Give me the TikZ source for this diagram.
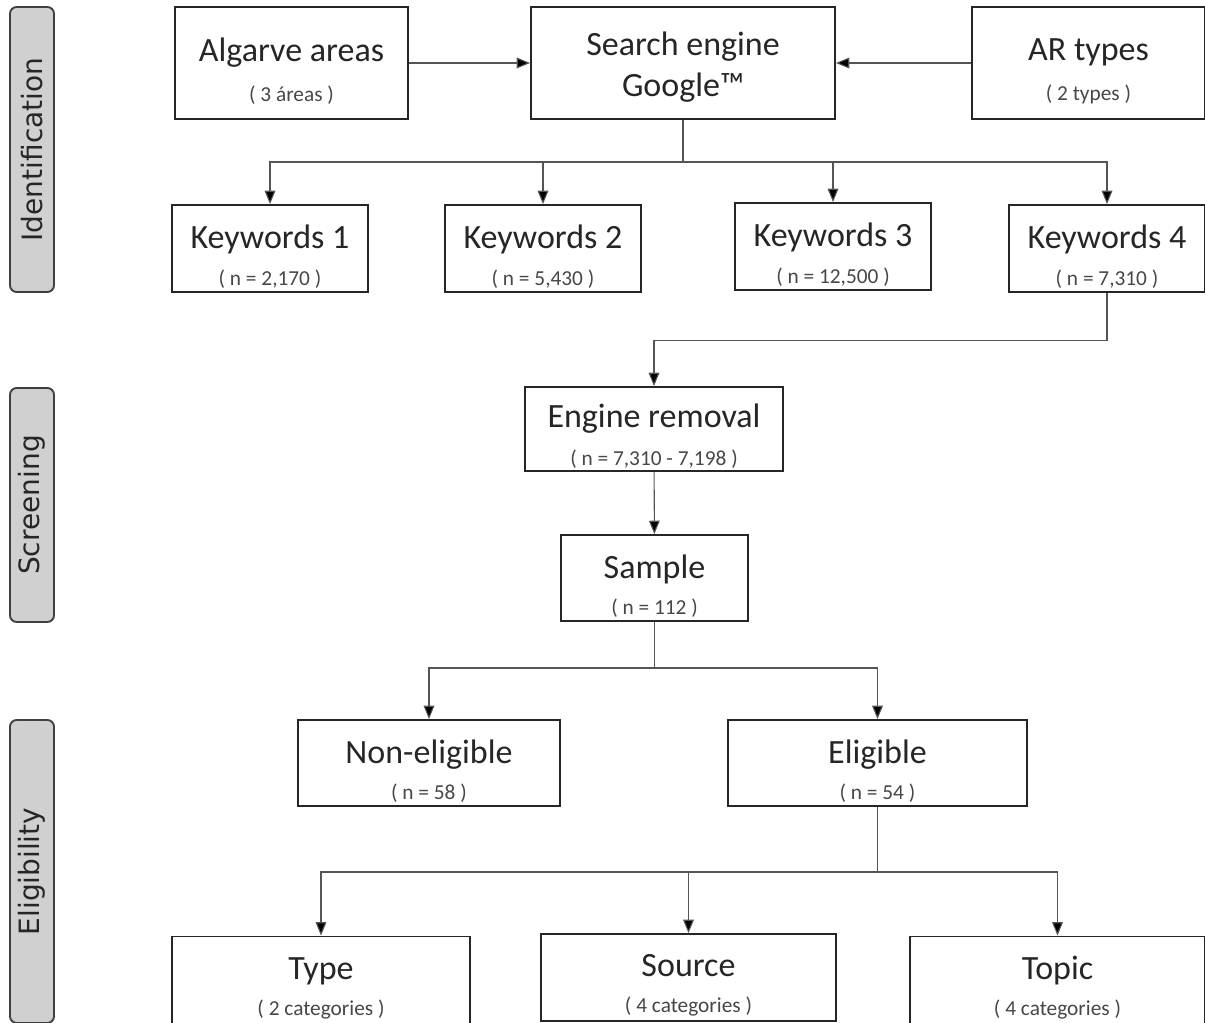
\documentclass[tikz,border=0pt]{standalone}
\usepackage{fontspec}
\setmainfont{Carlito}
\newfontfamily\lblfont{DejaVu Sans}
\usetikzlibrary{arrows.meta}
\definecolor{lblgray}{HTML}{D0D0D0}
\definecolor{linegray}{HTML}{555555}
\newcommand\subtxt[1]{{\fontsize{16}{18}\selectfont\color{black!72}#1}}
\newcommand\maintxt{\fontsize{25.5}{29}\selectfont}
\tikzset{
  wh/.style 2 args={minimum width=#1*0.75pt, minimum height=#2*0.75pt},
  box/.style={draw=black!85, line width=1.4pt, fill=white, inner sep=0pt},
  boxtext/.style={align=center, inner sep=0pt, text=black!85, font=\maintxt},
  phase/.style={draw=black!75, line width=1.4pt, fill=lblgray, rounded corners=5pt, inner sep=0pt, rotate=90, font=\lblfont\fontsize{21}{24}\selectfont, text=black!85},
  conn/.style={draw=linegray, line width=0.8pt},
  arr/.style={conn, -{Triangle[length=10pt,width=8pt,fill=black]}}
}
% name, x, y, w, h, text offset, content
\newcommand\flowbox[7]{%
  \node[box, wh={#4}{#5}] (#1) at (#2,#3) {};
  \node[boxtext] (#1-t) at (#2,#3+#6) {#7};}
\begin{document}
\begin{tikzpicture}[x=0.75pt,y=-0.75pt]
\useasboundingbox (0,0) rectangle (1205,1023);
% phase labels
\node[phase, wh={285}{44}] (pid) at (32,149.5) {Identification};
\node[phase, wh={234}{44}] (psc) at (32,505) {Screening};
\node[phase, wh={303}{44}] (pel) at (32,871.5) {Eligibility};
% top row
\flowbox{alg}{291.5}{63}{233}{112}{8.5}{Algarve areas\\[1pt]\subtxt{( 3 áreas )}}
\flowbox{se}{683}{63}{304}{112}{4}{Search engine\\[2pt]Google™}
\flowbox{ar}{1088.5}{63}{233}{112}{8.5}{AR types\\[1pt]\subtxt{( 2 types )}}
% keywords
\flowbox{kw1}{270}{248.5}{196}{87}{8}{Keywords 1\\[-1.5pt]\subtxt{( n = 2,170 )}}
\flowbox{kw2}{543}{248.5}{196}{87}{8}{Keywords 2\\[-1.5pt]\subtxt{( n = 5,430 )}}
\flowbox{kw3}{833}{246.5}{196}{87}{8}{Keywords 3\\[-1.5pt]\subtxt{( n = 12,500 )}}
\flowbox{kw4}{1107}{248.5}{196}{87}{8}{Keywords 4\\[-1.5pt]\subtxt{( n = 7,310 )}}
% screening
\flowbox{er}{654}{429}{258}{84}{7}{Engine removal\\[-0.5pt]\subtxt{( n = 7,310 - 7,198 )}}
\flowbox{sm}{654.5}{578}{187}{86}{8}{Sample\\[-2pt]\subtxt{( n = 112 )}}
% eligibility
\flowbox{ne}{429}{763}{262}{86}{8}{Non-eligible\\[-2pt]\subtxt{( n = 58 )}}
\flowbox{el}{877.5}{763}{299}{86}{8}{Eligible\\[-2pt]\subtxt{( n = 54 )}}
\flowbox{ty}{321}{980}{298}{87}{8}{Type\\[-2pt]\subtxt{( 2 categories )}}
\flowbox{so}{688.5}{977.5}{295}{87}{8}{Source\\[-2pt]\subtxt{( 4 categories )}}
\flowbox{tp}{1057.5}{980}{295}{87}{8}{Topic\\[-2pt]\subtxt{( 4 categories )}}
% connectors
\draw[arr] (alg) -- (se);
\draw[arr] (ar) -- (se);
\coordinate (j1) at (683,162);
\draw[conn] (se.south) -- (j1);
\draw[arr] (j1) -| (kw1.north);
\draw[arr] (j1) -| (kw2.north);
\draw[arr] (j1) -| (kw3.north);
\draw[arr] (j1) -| (kw4.north);
\draw[arr] (kw4.south) -- ++(0,48) -| (er.north);
\draw[arr] (er) -- (sm);
\coordinate (j3) at (654.5,668);
\draw[conn] (sm.south) -- (j3);
\draw[arr] (j3) -| (ne.north);
\draw[arr] (j3) -| (el.north);
\coordinate (j4) at (877.5,872);
\draw[conn] (el.south) -- (j4);
\draw[arr] (j4) -| (ty.north);
\draw[arr] (j4) -| (so.north);
\draw[arr] (j4) -| (tp.north);
\end{tikzpicture}
\end{document}
